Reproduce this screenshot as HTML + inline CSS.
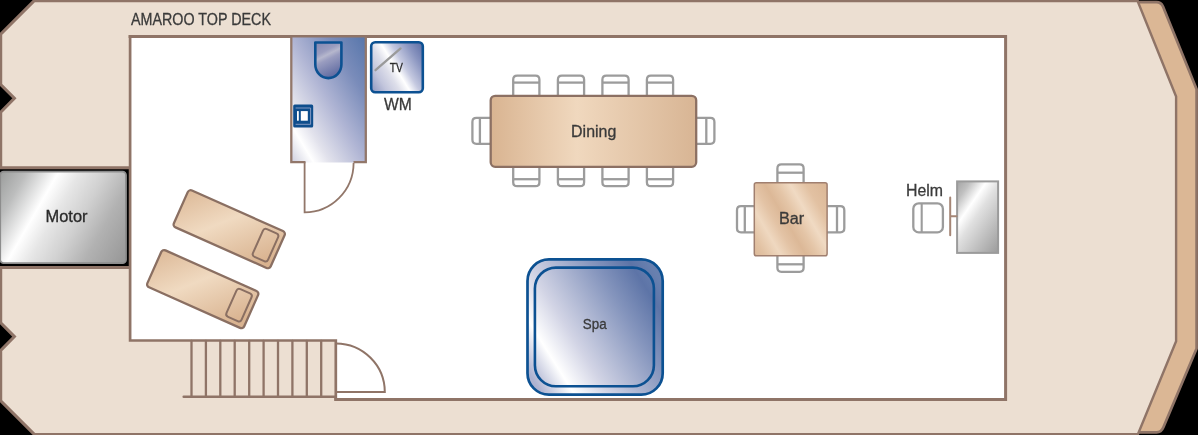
<!DOCTYPE html>
<html>
<head>
<meta charset="utf-8">
<title>Amaroo Top Deck</title>
<style>
html,body{margin:0;padding:0;background:#000;overflow:hidden;}
body{width:1200px;height:435px;position:relative;font-family:"Liberation Sans",sans-serif;}
svg{display:block;position:absolute;left:0;top:0;will-change:transform;}
text{font-family:"Liberation Sans",sans-serif;fill:#3a3a3a;stroke:#3a3a3a;stroke-width:0.3px;}
</style>
</head>
<body>
<svg width="1200" height="435" viewBox="0 0 1200 435">
<defs>
  <linearGradient id="gTable" x1="0" y1="0" x2="1" y2="0">
    <stop offset="0" stop-color="#d9b491"/>
    <stop offset="0.42" stop-color="#f0d8be"/>
    <stop offset="1" stop-color="#d8b594"/>
  </linearGradient>
  <linearGradient id="gBar" gradientUnits="userSpaceOnUse" x1="754" y1="256" x2="839.4" y2="206.3">
    <stop offset="0" stop-color="#dcb999"/>
    <stop offset="0.1" stop-color="#e2c2a3"/>
    <stop offset="0.24" stop-color="#efd8c0"/>
    <stop offset="0.36" stop-color="#e3c3a5"/>
    <stop offset="0.46" stop-color="#dcb897"/>
    <stop offset="0.56" stop-color="#e4c5a7"/>
    <stop offset="0.68" stop-color="#f0dac3"/>
    <stop offset="0.82" stop-color="#e2c1a2"/>
    <stop offset="1" stop-color="#dbb796"/>
  </linearGradient>
  <linearGradient id="gLounge" gradientUnits="userSpaceOnUse" x1="7.2" y1="-22.3" x2="82" y2="49.9">
    <stop offset="0" stop-color="#d9b390"/>
    <stop offset="0.5" stop-color="#f0dac1"/>
    <stop offset="1" stop-color="#d9b390"/>
  </linearGradient>
  <linearGradient id="gBath" x1="0" y1="1" x2="1" y2="0">
    <stop offset="0" stop-color="#cdcede"/>
    <stop offset="0.15" stop-color="#ffffff"/>
    <stop offset="0.26" stop-color="#e2e2ec"/>
    <stop offset="0.5" stop-color="#b0b5d4"/>
    <stop offset="0.76" stop-color="#7a8cba"/>
    <stop offset="1" stop-color="#5776ab"/>
  </linearGradient>
  <linearGradient id="gToilet" gradientUnits="userSpaceOnUse" x1="315" y1="42.5" x2="332.9" y2="78.3">
    <stop offset="0" stop-color="#8487b1"/>
    <stop offset="0.3" stop-color="#9b9dbf"/>
    <stop offset="0.41" stop-color="#b6b7cd"/>
    <stop offset="0.52" stop-color="#9a9dc0"/>
    <stop offset="1" stop-color="#5a669e"/>
  </linearGradient>
  <linearGradient id="gWM" gradientUnits="userSpaceOnUse" x1="371" y1="92" x2="431" y2="55.5">
    <stop offset="0" stop-color="#8a93bd"/>
    <stop offset="0.2" stop-color="#c2c5dc"/>
    <stop offset="0.36" stop-color="#dedfea"/>
    <stop offset="0.48" stop-color="#ffffff"/>
    <stop offset="0.6" stop-color="#c5c9e0"/>
    <stop offset="0.8" stop-color="#8a95c0"/>
    <stop offset="1" stop-color="#5a6ba3"/>
  </linearGradient>
  <linearGradient id="gSpa" gradientUnits="userSpaceOnUse" x1="527" y1="370" x2="663" y2="285">
    <stop offset="0" stop-color="#adb2d0"/>
    <stop offset="0.17" stop-color="#ffffff"/>
    <stop offset="0.35" stop-color="#d2d4e5"/>
    <stop offset="0.7" stop-color="#8595bd"/>
    <stop offset="0.9" stop-color="#5d74a7"/>
    <stop offset="1" stop-color="#6880af"/>
  </linearGradient>
  <linearGradient id="gMotor" gradientUnits="userSpaceOnUse" x1="0" y1="171.6" x2="134.1" y2="248.6">
    <stop offset="0" stop-color="#9a9c9b"/>
    <stop offset="0.15" stop-color="#bcbdbd"/>
    <stop offset="0.33" stop-color="#ffffff"/>
    <stop offset="0.45" stop-color="#e6e6e6"/>
    <stop offset="0.6" stop-color="#d0d0d0"/>
    <stop offset="0.76" stop-color="#b2b2b2"/>
    <stop offset="1" stop-color="#969696"/>
  </linearGradient>
  <linearGradient id="gHelm" gradientUnits="userSpaceOnUse" x1="957" y1="181.4" x2="1018.3" y2="223.4">
    <stop offset="0" stop-color="#a3a3a3"/>
    <stop offset="0.15" stop-color="#c0c0c0"/>
    <stop offset="0.33" stop-color="#ffffff"/>
    <stop offset="0.48" stop-color="#e0e0e0"/>
    <stop offset="0.75" stop-color="#bcbcbc"/>
    <stop offset="1" stop-color="#9b9b9b"/>
  </linearGradient>
</defs>


<!-- bow bumper -->
<path d="M1137.5,2.2 L1156.5,2.2 Q1161,2.2 1163,6.5 L1196.6,89.2 L1196.6,348.6 L1163.4,427.3 Q1161.4,432.3 1156.5,432.4 L1137.5,432.4 L1176,341.2 L1176,96.5 Z" fill="#dbb795"/>
<path d="M1137.5,2.2 L1156.5,2.2 Q1161,2.2 1163,6.5 L1196.6,89.2 L1196.6,348.6 L1163.4,427.3 Q1161.4,432.3 1156.5,432.4 L1137.5,432.4" fill="none" stroke="#8f7467" stroke-width="2.7" stroke-linejoin="round"/>

<!-- hull -->
<path d="M34.3,0.6 L1137.5,0.6 L1176,96.5 L1176,341.2 L1137.5,434.4 L34.3,434.4 L0.7,400.8 L0.7,350.45 L14.4,336.6 L0.7,322.75 L0.7,267.5 L129.8,267.5 L129.8,167.7 L0.7,167.7 L0.7,112.15 L14.4,98.3 L0.7,84.45 L0.7,34.2 Z" fill="#ecdfd2"/>
<path d="M1138.5,0.6 L34.3,0.6 L0.7,34.2 L0.7,84.45 L14.4,98.3 L0.7,112.15 L0.7,167.7 L129.8,167.7 M129.8,267.5 L0.7,267.5 L0.7,322.75 L14.4,336.6 L0.7,350.45 L0.7,400.8 L34.3,434.4 L1138.5,434.4" fill="none" stroke="#8f7467" stroke-width="3.05" stroke-linejoin="miter"/>
<path d="M1137.2,0 L1176.1,96.5 L1176.1,341.2 L1137.6,435" fill="none" stroke="#8f7467" stroke-width="2.4" stroke-linejoin="miter"/>

<!-- room (white) -->
<path d="M130.1,36.5 L1005.6,36.5 L1005.6,399.5 L335.8,399.5 L335.8,340.5 L130.1,340.5 Z" fill="#ffffff"/>
<g stroke="#8f7467" fill="none" stroke-linecap="square">
  <path d="M130.1,36.5 H1005.6 V399.5 H335.8" stroke-width="3"/>
  <path d="M335.8,399.5 V340.5 H130.1 V36.5" stroke-width="2.7"/>
</g>

<!-- title -->
<text x="131" y="25" font-size="17" textLength="140" lengthAdjust="spacingAndGlyphs">AMAROO TOP DECK</text>

<!-- motor -->
<rect x="0.2" y="171.6" width="125.8" height="91.6" rx="3.5" fill="url(#gMotor)" stroke="#8d8d8d" stroke-width="1.8"/>
<text x="66.5" y="221.5" font-size="16.2" text-anchor="middle" textLength="42" lengthAdjust="spacingAndGlyphs" style="fill:#2a2a2a;stroke:#2a2a2a">Motor</text>

<!-- stairs -->
<g stroke="#8f7467" stroke-width="2.3" stroke-linecap="round" fill="none">
  <path d="M191.5,341 V396.7 M205.9,341 V396.7 M220.3,341 V396.7 M234.7,341 V396.7 M249.2,341 V396.7 M263.6,341 V396.7 M278,341 V396.7 M292.4,341 V396.7 M306.8,341 V396.7 M321.2,341 V396.7"/>
  <path d="M183.7,396.8 H335.5" stroke-width="2.5"/>
  <path d="M336,392 H384.8 A49,48.6 0 0 0 336,343.4" stroke-width="2"/>
</g>

<!-- bathroom -->
<rect x="291.3" y="37.5" width="74.5" height="125" fill="url(#gBath)"/>
<g stroke="#92776a" stroke-width="2.3" fill="none">
  <path d="M291.3,37 V162.2 H305.5 M353.5,162.2 H365.8 V37"/>
</g>
<g stroke="#92776a" stroke-width="1.8" fill="none">
  <path d="M304.6,162.2 V212.3 A49,49.5 0 0 0 353.6,163"/>
</g>
<!-- toilet -->
<path d="M315.3,42.5 H341.4 V64.5 A13.05,13.6 0 0 1 315.3,64.5 Z" fill="url(#gToilet)" stroke="#0c5192" stroke-width="2.6" stroke-linejoin="round"/>
<!-- basin icon -->
<rect x="293.2" y="104.6" width="20" height="22.9" rx="1.5" fill="#0e4d8c"/>
<path d="M295.6,108 H310.6 V124.3 H295.6" fill="none" stroke="#8fa0c8" stroke-width="0.9"/>
<rect x="297" y="111.1" width="1.8" height="9.6" fill="#ffffff"/>
<rect x="300.8" y="111.1" width="7" height="9.6" fill="#ffffff"/>

<!-- TV / WM -->
<rect x="371.2" y="42.3" width="51.6" height="50" rx="4" fill="url(#gWM)" stroke="#0c5192" stroke-width="2.6"/>
<path d="M375.5,70.2 L400.6,48.4" stroke="#9a9a9a" stroke-width="2.3" stroke-linecap="round"/>
<text x="396.3" y="71.6" font-size="13" text-anchor="middle" textLength="13.2" lengthAdjust="spacingAndGlyphs" style="fill:#1c1c1c">TV</text>
<text x="397.8" y="109.8" font-size="16.6" text-anchor="middle" textLength="27.8" lengthAdjust="spacingAndGlyphs">WM</text>

<!-- dining chairs -->
<g fill="#ffffff" stroke="#9c9c9c" stroke-width="2.3">
  <g id="chT">
    <path d="M513.2,100 V79.7 Q513.2,75.7 517.2,75.7 H535.4 Q539.4,75.7 539.4,79.7 V100 Z"/>
    <path d="M513.2,82.6 H539.4" fill="none"/>
  </g>
  <use href="#chT" x="44.7"/>
  <use href="#chT" x="89.2"/>
  <use href="#chT" x="133.7"/>
  <g id="chB">
    <path d="M513.2,160 V182.2 Q513.2,186.2 517.2,186.2 H535.4 Q539.4,186.2 539.4,182.2 V160 Z"/>
    <path d="M513.2,179.2 H539.4" fill="none"/>
  </g>
  <use href="#chB" x="44.7"/>
  <use href="#chB" x="89.2"/>
  <use href="#chB" x="133.7"/>
  <path d="M495,117.9 H476.4 Q472.4,117.9 472.4,121.9 V139.8 Q472.4,143.8 476.4,143.8 H495 Z"/>
  <path d="M479.9,117.9 V143.8" fill="none"/>
  <path d="M692,117.9 H710.4 Q714.4,117.9 714.4,121.9 V139.8 Q714.4,143.8 710.4,143.8 H692 Z"/>
  <path d="M706.3,117.9 V143.8" fill="none"/>
</g>
<!-- dining table -->
<rect x="490.7" y="95.8" width="205.5" height="71" rx="4.5" fill="url(#gTable)" stroke="#8c7063" stroke-width="2.3"/>
<text x="593.7" y="137.2" font-size="16" text-anchor="middle" textLength="45.2" lengthAdjust="spacingAndGlyphs">Dining</text>

<!-- bar chairs -->
<g fill="#ffffff" stroke="#9c9c9c" stroke-width="2.3">
  <path d="M777.4,190 V168.4 Q777.4,164.4 781.4,164.4 H799.6 Q803.6,164.4 803.6,168.4 V190 Z"/>
  <path d="M777.4,172.7 H803.6" fill="none"/>
  <path d="M777.4,250 V267.8 Q777.4,271.8 781.4,271.8 H799.6 Q803.6,271.8 803.6,267.8 V250 Z"/>
  <path d="M777.4,264.3 H803.6" fill="none"/>
  <path d="M760,206.2 H741 Q737,206.2 737,210.2 V228.3 Q737,232.3 741,232.3 H760 Z"/>
  <path d="M744.8,206.2 V232.3" fill="none"/>
  <path d="M822,206.2 H840.3 Q844.3,206.2 844.3,210.2 V228.3 Q844.3,232.3 840.3,232.3 H822 Z"/>
  <path d="M837,206.2 V232.3" fill="none"/>
</g>
<!-- bar table -->
<rect x="754.3" y="182.8" width="72.8" height="73" rx="2" fill="url(#gBar)" stroke="#a07f6f" stroke-width="1.5"/>
<text x="791.6" y="224" font-size="16" text-anchor="middle" textLength="25.2" lengthAdjust="spacingAndGlyphs">Bar</text>

<!-- helm -->
<rect x="957.1" y="181.4" width="41" height="71.5" fill="url(#gHelm)" stroke="#9b9b9b" stroke-width="2"/>
<path d="M950.2,197.5 V235.3 M950.2,216.3 H956.5" stroke="#a58676" stroke-width="2" stroke-linecap="round" fill="none"/>
<rect x="913.3" y="203.3" width="29.6" height="29.1" rx="5.5" fill="#ffffff" stroke="#9c9c9c" stroke-width="2.3"/>
<path d="M921.7,203.2 V232.5" stroke="#9c9c9c" stroke-width="2.1"/>
<text x="924.5" y="196" font-size="17" text-anchor="middle" textLength="37" lengthAdjust="spacingAndGlyphs">Helm</text>

<!-- spa -->
<rect x="527.5" y="259.4" width="135.2" height="135.3" rx="21.5" fill="url(#gSpa)" stroke="#0c5192" stroke-width="2.7"/>
<rect x="534.9" y="267.6" width="119" height="118.6" rx="21" fill="url(#gSpa)" stroke="#0c5192" stroke-width="2.6"/>
<text x="594.7" y="329" font-size="15" text-anchor="middle" textLength="23.8" lengthAdjust="spacingAndGlyphs">Spa</text>

<!-- loungers -->
<g id="lounger" transform="translate(191,190.2) rotate(24)">
  <rect x="-2.2" y="-0.1" width="106" height="40.4" rx="3.2" fill="url(#gLounge)" stroke="#8a6f62" stroke-width="2.3"/>
  <rect x="82.2" y="4.7" width="16.5" height="30.4" rx="3" fill="none" stroke="#8a6f62" stroke-width="2"/>
</g>
<use href="#lounger" x="-26.5" y="59.9"/>
<!-- white strip at right edge -->
<rect x="1198" y="0" width="2" height="435" fill="#ffffff"/>
</svg>
</body>
</html>
